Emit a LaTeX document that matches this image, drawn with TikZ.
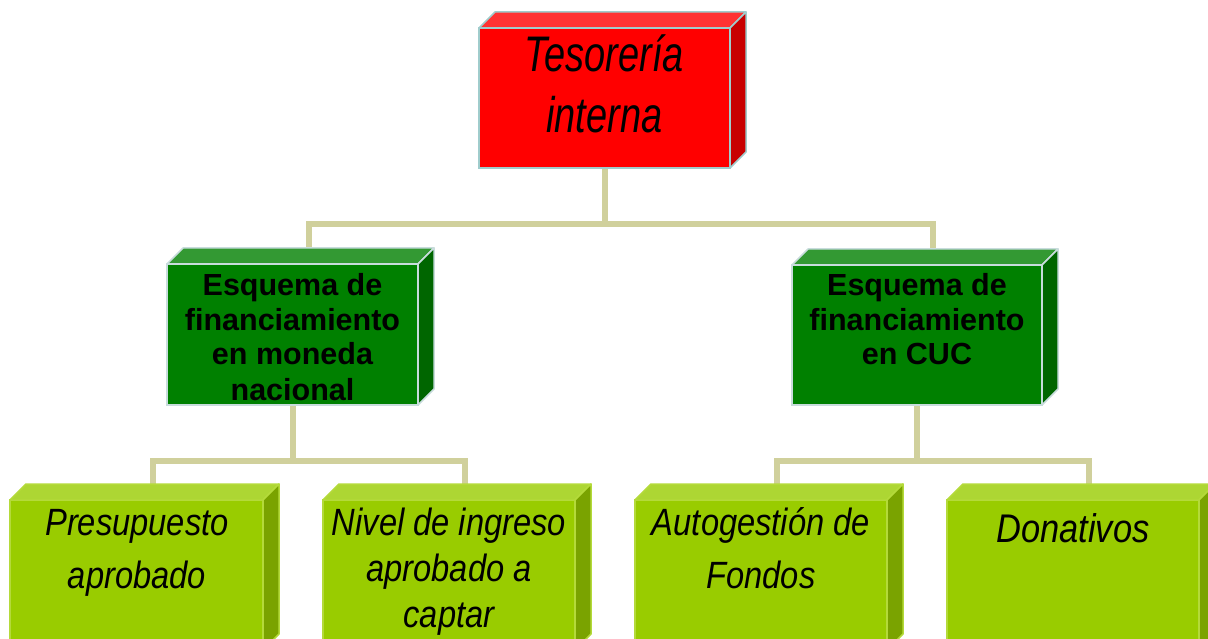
\documentclass[tikz,border=0pt]{standalone}
\usepackage{fontspec}
\setmainfont{Liberation Sans}
\newfontfamily\topfont[FakeStretch=0.76]{Liberation Sans}
\newfontfamily\botfont[FakeStretch=0.86]{Liberation Sans}
\definecolor{redF}{HTML}{FF0000}
\definecolor{redT}{HTML}{FF3333}
\definecolor{redS}{HTML}{C80000}
\definecolor{redB}{HTML}{A0CCCC}
\definecolor{grnF}{HTML}{008000}
\definecolor{grnT}{HTML}{339933}
\definecolor{grnS}{HTML}{006600}
\definecolor{grnB}{HTML}{C8DCDC}
\definecolor{limF}{HTML}{99CC00}
\definecolor{limT}{HTML}{ADD633}
\definecolor{limS}{HTML}{7AA300}
\definecolor{limB}{HTML}{B4DA3A}
\definecolor{connC}{HTML}{D0D09C}
\tikzset{
  face/.style={inner sep=0pt, outer sep=0pt, line width=1.5pt},
  conn/.style={draw=connC, line width=6pt},
  toptxt/.style={inner sep=0pt, anchor=base, text width=250pt, align=flush center,
    font=\topfont\itshape\fontsize{50}{61}\selectfont},
  midtxt/.style={inner sep=0pt, anchor=base, text width=250pt, align=flush center,
    font=\bfseries\fontsize{30.5}{35}\selectfont},
  bottxt/.style={inner sep=0pt, anchor=base, text width=250pt, align=flush center,
    font=\botfont\itshape\fontsize{38}{53}\selectfont},
}
% \cubebox{name}{x1}{y1}{x2}{y2}{front}{top}{side}{border}
\newcommand\cubebox[9]{%
  \node[face, fill=#6, draw=#9, minimum width=#4pt-#2pt, minimum height=#5pt-#3pt]
    (#1) at ({(#2+#4)/2},{(#3+#5)/2}) {};
  \fill[#7, draw=#9, line width=1.5pt, line join=round]
    (#1.north west) -- ++(16,-16) -- ($(#1.north east)+(16,-16)$) -- (#1.north east) -- cycle;
  \fill[#8, draw=#9, line width=1.5pt, line join=round]
    (#1.north east) -- ++(16,-16) -- ($(#1.south east)+(16,-16)$) -- (#1.south east) -- cycle;
}
\usetikzlibrary{calc}
\begin{document}
\begin{tikzpicture}[x=1pt,y=-1pt]
\useasboundingbox (0,0) rectangle (1208,639);
\clip (0,0) rectangle (1208,639);
% connectors (behind boxes)
\coordinate (j1) at (605,224);
\coordinate (j2) at (292.5,461);
\coordinate (j3) at (917,461);
\coordinate (glb) at (309,248);
\coordinate (grb) at (933,248);
\coordinate (b1b) at (153,484);
\coordinate (b2b) at (465,484);
\coordinate (b3b) at (777,484);
\coordinate (b4b) at (1089,484);
\coordinate (tops) at (605,168);
\coordinate (gls) at (292.5,405);
\coordinate (grs) at (917,405);
\draw[conn] (tops) -- (j1);
\draw[conn] (j1) -| (glb);
\draw[conn] (j1) -| (grb);
\draw[conn] (gls) -- (j2);
\draw[conn] (j2) -| (b1b);
\draw[conn] (j2) -| (b2b);
\draw[conn] (grs) -- (j3);
\draw[conn] (j3) -| (b3b);
\draw[conn] (j3) -| (b4b);
% boxes
\cubebox{top}{479}{28}{730}{168}{redF}{redT}{redS}{redB}
\cubebox{gl}{167}{264}{418}{405}{grnF}{grnT}{grnS}{grnB}
\cubebox{gr}{792}{265}{1042}{405}{grnF}{grnT}{grnS}{grnB}
\cubebox{b1}{10}{500}{263}{650}{limF}{limT}{limS}{limB}
\cubebox{b2}{323}{500}{575}{650}{limF}{limT}{limS}{limB}
\cubebox{b3}{635}{500}{887}{650}{limF}{limT}{limS}{limB}
\cubebox{b4}{947}{500}{1199}{650}{limF}{limT}{limS}{limB}
% texts
\node[toptxt] (topt) at (604.5,72) {Tesorería\\interna};
\node[midtxt] (glt) at (292.5,295) {Esquema de\\financiamiento\\en moneda\\nacional};
\node[midtxt] (grt) at (917,295) {Esquema de\\financiamiento\\en CUC};
\node[bottxt] (b1t) at (137,535) {Presupuesto\\aprobado};
\node[bottxt, font=\botfont\itshape\fontsize{38}{46}\selectfont] (b2t) at (449,535) {Nivel de ingreso\\aprobado a\\captar};
\node[bottxt] (b3t) at (761,535) {Autogestión de\\Fondos};
\node[bottxt, font=\botfont\itshape\fontsize{40}{53}\selectfont] (b4t) at (1073,542) {Donativos};
\end{tikzpicture}
\end{document}
